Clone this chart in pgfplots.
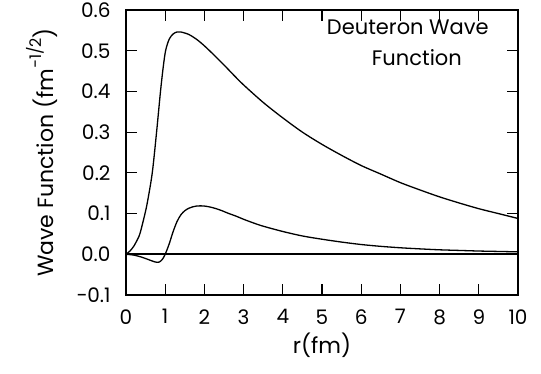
\documentclass[border=0pt]{standalone}
\usepackage{fontspec}
\setmainfont{Poppins}
\usepackage{pgfplots}
\pgfplotsset{compat=1.18}
\begin{document}
\begin{tikzpicture}[x=1pt,y=1pt]
\useasboundingbox (-126,-78) rectangle (415,295);
\begin{axis}[
  at={(0,0)}, anchor=south west,
  scale only axis, width=392pt, height=285pt,
  xmin=0, xmax=10, ymin=-0.1, ymax=0.6,
  xtick={0,1,2,3,4,5,6,7,8,9,10},
  ytick={-0.1,0,0.1,0.2,0.3,0.4,0.5,0.6},
  yticklabels={−0.1,0.0,0.1,0.2,0.3,0.4,0.5,0.6},
  xticklabels={0,1,2,3,4,5,6,7,8,9,10},
  tick align=inside,
  major tick length=11pt,
  tick style={line width=1.2pt, black},
  axis line style={line width=2pt},
  ticklabel style={font=\fontsize{20}{22}\selectfont},
  xticklabel style={yshift=-11pt},
  yticklabel style={xshift=-12pt},
  xlabel={r(fm)},
  ylabel={Wave Function (fm\raisebox{0.55em}{\fontsize{16}{16}\selectfont −1/2})},
  label style={font=\fontsize{22}{24}\selectfont},
  xlabel style={at={(axis description cs:0.5,-0.175)}, anchor=center},
  ylabel style={at={(axis description cs:-0.214,0.5)}, anchor=center},
  clip=false,
]
\addplot[black, line width=1.3pt, smooth] coordinates {
(0,0) (0.1,0.008) (0.2,0.02) (0.3,0.038) (0.36,0.052) (0.48,0.098) (0.55,0.13)
(0.67,0.20) (0.78,0.30) (0.88,0.40) (0.95,0.46) (1.01,0.50) (1.1,0.528) (1.2,0.541)
(1.3,0.546) (1.4,0.546) (1.6,0.540) (1.8,0.528) (2.0,0.512) (2.25,0.489) (2.5,0.465)
(2.75,0.440) (3.0,0.416)
(3.5,0.373) (4.0,0.335) (4.5,0.300) (5.0,0.270) (5.5,0.243) (6.0,0.218) (6.5,0.197)
(7.0,0.176) (7.5,0.158) (8.0,0.141) (8.5,0.126) (9.0,0.112) (9.5,0.100) (10,0.088)
};
\addplot[black, line width=1.3pt, smooth] coordinates {
(0,0) (0.2,-0.002) (0.4,-0.007) (0.6,-0.014) (0.75,-0.019) (0.85,-0.019) (0.93,-0.012)
(1.0,0.0) (1.1,0.025) (1.2,0.055) (1.3,0.080) (1.4,0.097) (1.5,0.107) (1.6,0.113)
(1.7,0.1165) (1.8,0.1185) (1.9,0.119) (2.0,0.1185) (2.15,0.116) (2.3,0.112) (2.45,0.107)
(2.6,0.101) (2.8,0.094) (3.0,0.086) (3.25,0.077) (3.5,0.069)
(4.0,0.056) (4.5,0.045) (5.0,0.037) (5.5,0.030) (6.0,0.024) (6.5,0.0195) (7.0,0.016)
(7.5,0.0133) (8.0,0.011) (8.5,0.0095) (9.0,0.008) (9.5,0.007) (10,0.006)
};
\addplot[black, line width=2pt] coordinates {(0,0) (10,0)};
\node[font=\fontsize{21}{23}\selectfont] at (axis cs:7.19,0.558) {Deuteron Wave};
\node[font=\fontsize{21}{23}\selectfont] at (axis cs:7.42,0.482) {Function};
\end{axis}
\end{tikzpicture}
\end{document}
